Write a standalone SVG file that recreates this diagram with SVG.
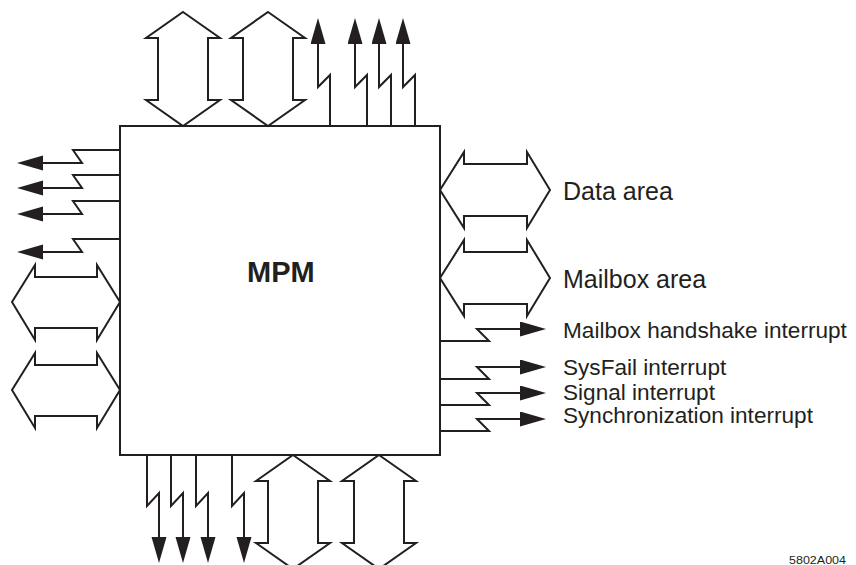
<svg xmlns="http://www.w3.org/2000/svg" width="856" height="565" viewBox="0 0 856 565">
  <style>
    .box { fill: #fff; stroke: #231f20; stroke-width: 2; }
    .bus { fill: #fff; stroke: #231f20; stroke-width: 2; stroke-linejoin: miter; }
    .sig { fill: none; stroke: #231f20; stroke-width: 2; stroke-linejoin: miter; marker-end: url(#head); }
    .lbl { font-family: "Liberation Sans", Arial, sans-serif; fill: #231f20; }
  </style>
  <defs>
    <marker id="head" markerUnits="userSpaceOnUse" markerWidth="27" markerHeight="16" refX="0" refY="7.5" orient="auto">
      <path d="M0,0 L26,7.5 L0,15 z" fill="#231f20"/>
    </marker>
  </defs>

  <rect id="background" x="0" y="0" width="856" height="565" fill="#fff"/>

  <!-- central module -->
  <g id="mpm">
    <rect class="box" x="120" y="126" width="320" height="329"/>
    <text class="lbl" x="247" y="282" font-size="29" font-weight="bold">MPM</text>
  </g>

  <!-- wide bidirectional buses -->
  <g id="bus-top-1"><polygon class="bus" points="183,12 220,38 208,38 208,100 220,100 183,126 146,100 158,100 158,38 146,38"/></g>
  <g id="bus-top-2"><polygon class="bus" points="268,12 305,38 293,38 293,100 305,100 268,126 231,100 243,100 243,38 231,38"/></g>

  <g id="bus-left-1"><polygon class="bus" points="12,302 35,265 35,277 97,277 97,265 120,302 97,340 97,328 35,328 35,340"/></g>
  <g id="bus-left-2"><polygon class="bus" points="12,390 35,353 35,365 97,365 97,353 120,390 97,428 97,416 35,416 35,428"/></g>

  <g id="bus-data">
    <polygon class="bus" points="440,190 464,152 464,164 527,164 527,152 550,190 527,228 527,216 464,216 464,228"/>
    <text class="lbl" x="563" y="200" font-size="25">Data area</text>
  </g>
  <g id="bus-mailbox">
    <polygon class="bus" points="440,278 464,240 464,252 527,252 527,240 550,278 527,316 527,304 464,304 464,316"/>
    <text class="lbl" x="563" y="288" font-size="25">Mailbox area</text>
  </g>

  <g id="bus-bottom-1"><polygon class="bus" points="293,455 330,481 318,481 318,543 330,543 293,569 256,543 268,543 268,481 256,481"/></g>
  <g id="bus-bottom-2"><polygon class="bus" points="379,455 416,481 404,481 404,543 416,543 379,569 342,543 354,543 354,481 342,481"/></g>

  <!-- single-line signals -->
  <g id="connectors">
    <path class="sig" d="M330,126 V75 L318,87 V44"/>
    <path class="sig" d="M367,126 V75 L355,87 V44"/>
    <path class="sig" d="M391,126 V75 L379,87 V44"/>
    <path class="sig" d="M415,126 V75 L403,87 V44"/>

    <path class="sig" d="M120,150 H73 L82,163 H43"/>
    <path class="sig" d="M120,175 H73 L82,188 H43"/>
    <path class="sig" d="M120,201 H73 L82,214 H43"/>
    <path class="sig" d="M120,239 H73 L82,252 H43"/>

    <path class="sig" d="M440,341 H489 L477,329 H520"/>
    <path class="sig" d="M440,379 H489 L477,367 H520"/>
    <path class="sig" d="M440,405 H489 L477,393 H520"/>
    <path class="sig" d="M440,431 H489 L477,419 H520"/>

    <path class="sig" d="M147,455 V506 L159,493 V537"/>
    <path class="sig" d="M171,455 V506 L183,493 V537"/>
    <path class="sig" d="M196,455 V506 L208,493 V537"/>
    <path class="sig" d="M232,455 V506 L244,493 V537"/>
  </g>

  <!-- signal labels -->
  <g id="labels">
    <text class="lbl" x="563" y="338" font-size="22.6">Mailbox handshake interrupt</text>
    <text class="lbl" x="563" y="375" font-size="22.6">SysFail interrupt</text>
    <text class="lbl" x="563" y="400" font-size="22.6">Signal interrupt</text>
    <text class="lbl" x="563" y="423" font-size="22.6">Synchronization interrupt</text>
    <text class="lbl" x="789" y="564" font-size="10" textLength="57" lengthAdjust="spacingAndGlyphs">5802A004</text>
  </g>
</svg>
